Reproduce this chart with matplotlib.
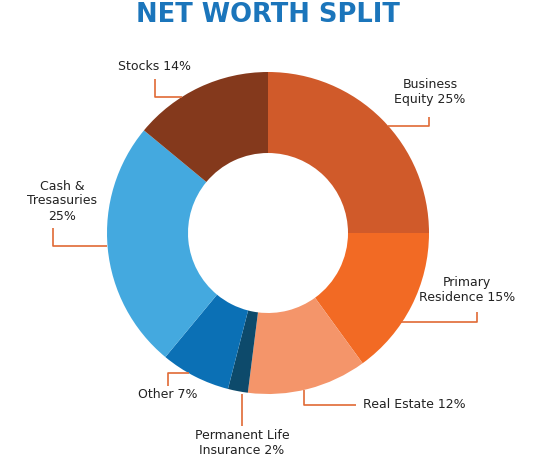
import matplotlib.pyplot as plt

# データ
labels = ["Business\nEquity 25%", "Primary\nResidence 15%", "Real Estate 12%",
          "Permanent Life\nInsurance 2%", "Other 7%", "Cash &\nTresasuries\n25%", "Stocks 14%"]
values = [25, 15, 12, 2, 7, 25, 14]
colors = ["#D05A2A", "#F26A24", "#F4956A", "#0D4A6B", "#0B70B5", "#44A9DF", "#84391C"]

H = 462
def P(x, y):  # ピクセル座標 -> データ座標
    return (x, H - y)

plt.rcParams['font.family'] = ['DejaVu Sans']
fig = plt.figure(figsize=(5.5, 4.62), dpi=100)
ax = fig.add_axes([0, 0, 1, 1])

# ドーナツ
ax.pie(values, colors=colors, startangle=90, counterclock=False,
       radius=161, center=P(268, 233), frame=True,
       wedgeprops=dict(width=81, linewidth=0))
ax.set_xlim(0, 550)
ax.set_ylim(0, H)
ax.axis("off")

# ラベル位置と引き出し線
lc = "#E06A35"
label_pos = [(430, 92), (467, 290), (414, 405), (242, 443), (168, 395), (62, 201), (154, 66)]
lines = [
    [(429, 117), (429, 126), (388, 126)],
    [(477, 312), (477, 322), (401, 322)],
    [(356, 405), (304, 405), (304, 390)],
    [(242, 426), (242, 394)],
    [(168, 386), (168, 373), (189, 373)],
    [(53, 228), (53, 246), (107, 246)],
    [(155, 79), (155, 97), (182, 97)],
]
for lab, (x, y), pts in zip(labels, label_pos, lines):
    ax.text(*P(x, y), lab, ha="center", va="center", fontsize=9, color="#222222",
            linespacing=1.2, multialignment="center")
    xs = [p[0] for p in pts]
    ys = [H - p[1] for p in pts]
    ax.plot(xs, ys, color=lc, lw=1.2, solid_capstyle="butt")

# タイトル
ax.text(*P(268, 15), "NET WORTH SPLIT", ha="center", va="center",
        fontsize=18.5, fontweight="bold", color="#1B75BB")

fig.savefig("out.png", dpi=100)
